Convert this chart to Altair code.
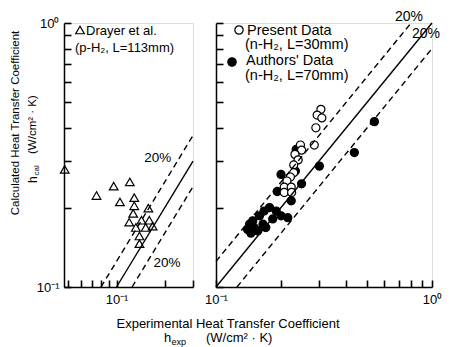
import altair as alt
import pandas as pd

# ---------------- data ----------------
# Drayer et al. (p-H2, L=113mm)  -- left panel
drayer_hexp = [0.0475, 0.075, 0.096, 0.121, 0.105, 0.129, 0.129, 0.127, 0.120,
               0.158, 0.143, 0.160, 0.132, 0.152, 0.168, 0.139, 0.139]
drayer_hcal = [0.279, 0.222, 0.241, 0.250, 0.210, 0.218, 0.203, 0.190, 0.176,
               0.199, 0.179, 0.179, 0.168, 0.168, 0.170, 0.156, 0.146]

# Present data (n-H2, L=30mm) -- open circles
present_hexp = [0.306, 0.294, 0.309, 0.290, 0.285, 0.246, 0.249, 0.232, 0.240,
                0.229, 0.229, 0.221, 0.213, 0.207, 0.223, 0.207, 0.224]
present_hcal = [0.471, 0.448, 0.437, 0.401, 0.345, 0.345, 0.330, 0.318, 0.303,
                0.290, 0.271, 0.261, 0.252, 0.239, 0.239, 0.228, 0.228]

# Authors' data (n-H2, L=70mm) -- filled circles
authors_hexp = [0.541, 0.437, 0.301, 0.249, 0.223, 0.200, 0.192, 0.233, 0.235,
                0.177, 0.190, 0.159, 0.148, 0.143, 0.150, 0.165, 0.183, 0.200,
                0.215, 0.170, 0.156, 0.140, 0.167, 0.145]
authors_hcal = [0.423, 0.323, 0.287, 0.246, 0.212, 0.267, 0.230, 0.275, 0.332,
                0.200, 0.194, 0.186, 0.178, 0.173, 0.168, 0.173, 0.181, 0.186,
                0.183, 0.168, 0.163, 0.165, 0.194, 0.160]

y_ticks = [0.1, 0.2, 0.3, 0.4, 0.5, 0.6, 0.7, 0.8, 0.9, 1.0]
x_ticks_left = [0.05, 0.06, 0.07, 0.08, 0.09, 0.1, 0.2, 0.3]
x_ticks_right = [0.1, 0.2, 0.3, 0.4, 0.5, 0.6, 0.7, 0.8, 0.9, 1.0]
y_domain = [0.1, 1.0]
x_domain_left = [0.047, 0.3]
x_domain_right = [0.1, 1.0]

# reference lines: h_cal = ratio * h_exp, drawn between these h_exp limits
lines_left = [("equal", 1.0, 0.1, 0.3), ("upper", 1.25, 0.08, 0.3), ("lower", 0.8, 0.125, 0.3)]
lines_right = [("equal", 1.0, 0.1, 1.0), ("upper", 1.25, 0.1, 0.8), ("lower", 0.8, 0.125, 1.0)]

FONT = "Liberation Sans"
LABEL_EXPR = "datum.value == 0.1 ? '10\u207b\u00b9' : (datum.value == 1 ? '10\u2070' : '')"

# layout (pixels)
H = 264
W_LEFT = 129
W_RIGHT = 216
OXL, OYL = 63, 22     # left panel origin in the picture
OXR = 215             # right panel origin
TICK = 7
INWARD_TICK = alt.ExprRef(expr=f"-{TICK}")   # negative size -> ticks point into the plot


def lines_frame(spec):
    rows = []
    for name, ratio, x0, x1 in spec:
        for xv in (x0, x1):
            rows.append({"line": name, "hexp": xv, "hcal": ratio * xv})
    return pd.DataFrame(rows)


def text_layer(txt, x, y, ox, oy, size, align="left", baseline="middle", angle=0):
    kw = dict(font=FONT, fontSize=size, align=align, baseline=baseline, color="black")
    if angle:
        kw["angle"] = angle
    return alt.Chart(pd.DataFrame({"t": [txt]})).mark_text(**kw).encode(
        x=alt.value(x - ox), y=alt.value(y - oy), text="t:N")


def sym_layer(shape, filled, x, y, ox, oy, size):
    return alt.Chart(pd.DataFrame({"s": [shape]})).mark_point(
        shape=shape, filled=filled, fill="black" if filled else "white",
        stroke="black", strokeWidth=1.2, size=size, opacity=1).encode(
        x=alt.value(x - ox), y=alt.value(y - oy))


def panel(points, xdom, xticks, W, ylabels, line_spec, extras):
    xs = alt.Scale(type="log", domain=xdom, nice=False, zero=False)
    ys = alt.Scale(type="log", domain=y_domain, nice=False, zero=False)
    main_x = alt.Axis(values=xticks, labelExpr=LABEL_EXPR, grid=False,
                      ticks=True, tickSize=INWARD_TICK, tickWidth=1.6, tickColor="black",
                      domainColor="black", domainWidth=1.5, title=None,
                      labelFont=FONT, labelFontSize=13, labelColor="black",
                      labelPadding=6 + TICK, labelFlush=False, labelOverlap=False)
    main_y = alt.Axis(values=y_ticks, labelExpr=LABEL_EXPR, grid=False,
                      ticks=True, tickSize=INWARD_TICK, tickWidth=1.6, tickColor="black",
                      domainColor="black", domainWidth=1.5, title=None, labels=ylabels,
                      labelFont=FONT, labelFontSize=13, labelColor="black",
                      labelPadding=5 + TICK, labelFlush=False, labelOverlap=False)

    pts = points.encode(
        x=alt.X("hexp:Q", scale=xs, axis=main_x),
        y=alt.Y("hcal:Q", scale=ys, axis=main_y))

    ldf = lines_frame(line_spec)
    solid = alt.Chart(ldf[ldf.line == "equal"]).mark_line(
        color="black", strokeWidth=1.4).encode(
        x=alt.X("hexp:Q", scale=xs, axis=None),
        y=alt.Y("hcal:Q", scale=ys, axis=None))
    dashed = alt.Chart(ldf[ldf.line != "equal"]).mark_line(
        color="black", strokeWidth=1.4, strokeDash=[6, 4]).encode(
        x=alt.X("hexp:Q", scale=xs, axis=None),
        y=alt.Y("hcal:Q", scale=ys, axis=None),
        detail="line:N")

    return alt.layer(pts, solid, dashed, *extras).resolve_axis(
        x="independent", y="independent").properties(width=W, height=H)


# ---------------- left panel ----------------
drayer = pd.DataFrame({"hexp": drayer_hexp, "hcal": drayer_hcal})
left_points = alt.Chart(drayer).mark_point(
    shape="triangle-up", filled=False, stroke="black", strokeWidth=1.2,
    size=75, opacity=1, clip=False)

left_extras = [
    sym_layer("triangle-up", False, 79, 29, OXL, OYL, 75),
    text_layer("Drayer et al.", 85, 30, OXL, OYL, 13),
    text_layer("(p-H\u2082, L=113mm)", 74, 46.5, OXL, OYL, 13),
    text_layer("20%", 156.7, 157, OXL, OYL, 13.5, align="center"),
    text_layer("20%", 166, 262, OXL, OYL, 13.5, align="center"),
    # y title
    text_layer("Calculated Heat Transfer Coefficient", 15, 122, OXL, OYL, 11.5,
               align="center", angle=270),
    text_layer("h", 32, 182, OXL, OYL, 12, angle=270),
    text_layer("cal", 35.5, 174.5, OXL, OYL, 8, angle=270),
    text_layer("(W/cm\u00b2 \u00b7 K)", 32, 153, OXL, OYL, 11.5, angle=270),
    # x title (spans both panels)
    text_layer("Experimental Heat Transfer Coefficient", 227, 327, OXL, OYL, 13,
               align="center", baseline="alphabetic"),
    text_layer("h", 163, 340.5, OXL, OYL, 13, baseline="alphabetic"),
    text_layer("exp", 170.5, 344, OXL, OYL, 9, baseline="alphabetic"),
    text_layer("(W/cm\u00b2   \u00b7   K)", 205, 340.5, OXL, OYL, 13, baseline="alphabetic"),
]

left = panel(left_points, x_domain_left, x_ticks_left, W_LEFT, True, lines_left, left_extras)

# ---------------- right panel ----------------
circles = pd.concat([
    pd.DataFrame({"hexp": authors_hexp, "hcal": authors_hcal, "series": "Authors' Data"}),
    pd.DataFrame({"hexp": present_hexp, "hcal": present_hcal, "series": "Present Data"}),
], ignore_index=True)
right_points = alt.Chart(circles).mark_circle(
    stroke="black", strokeWidth=1.2, size=65, opacity=1).encode(
    fill=alt.Fill("series:N", scale=alt.Scale(domain=["Authors' Data", "Present Data"],
                                              range=["black", "white"]), legend=None))

right_extras = [
    sym_layer("circle", False, 238, 29, OXR, OYL, 70),
    text_layer("Present Data", 246, 29.5, OXR, OYL, 14.5),
    text_layer("(n-H\u2082, L=30mm)", 244, 44, OXR, OYL, 14.5),
    sym_layer("circle", True, 231, 61, OXR, OYL, 70),
    text_layer("Authors' Data", 245, 60, OXR, OYL, 14.5),
    text_layer("(n-H\u2082, L=70mm)", 244, 75, OXR, OYL, 14.5),
    text_layer("20%", 408, 16, OXR, OYL, 14, align="center"),
    text_layer("20%", 425, 33, OXR, OYL, 14, align="center"),
]

right = panel(right_points, x_domain_right, x_ticks_right, W_RIGHT, False, lines_right, right_extras)

chart = alt.hconcat(left, right, spacing=OXR - OXL - W_LEFT, bounds="flush").properties(
    padding={"left": 9, "top": 9, "right": 5, "bottom": 2},
    background="white",
).configure_view(stroke=None).configure(font=FONT)

chart.save("out.html", embed_options={"renderer": "svg", "actions": False})
